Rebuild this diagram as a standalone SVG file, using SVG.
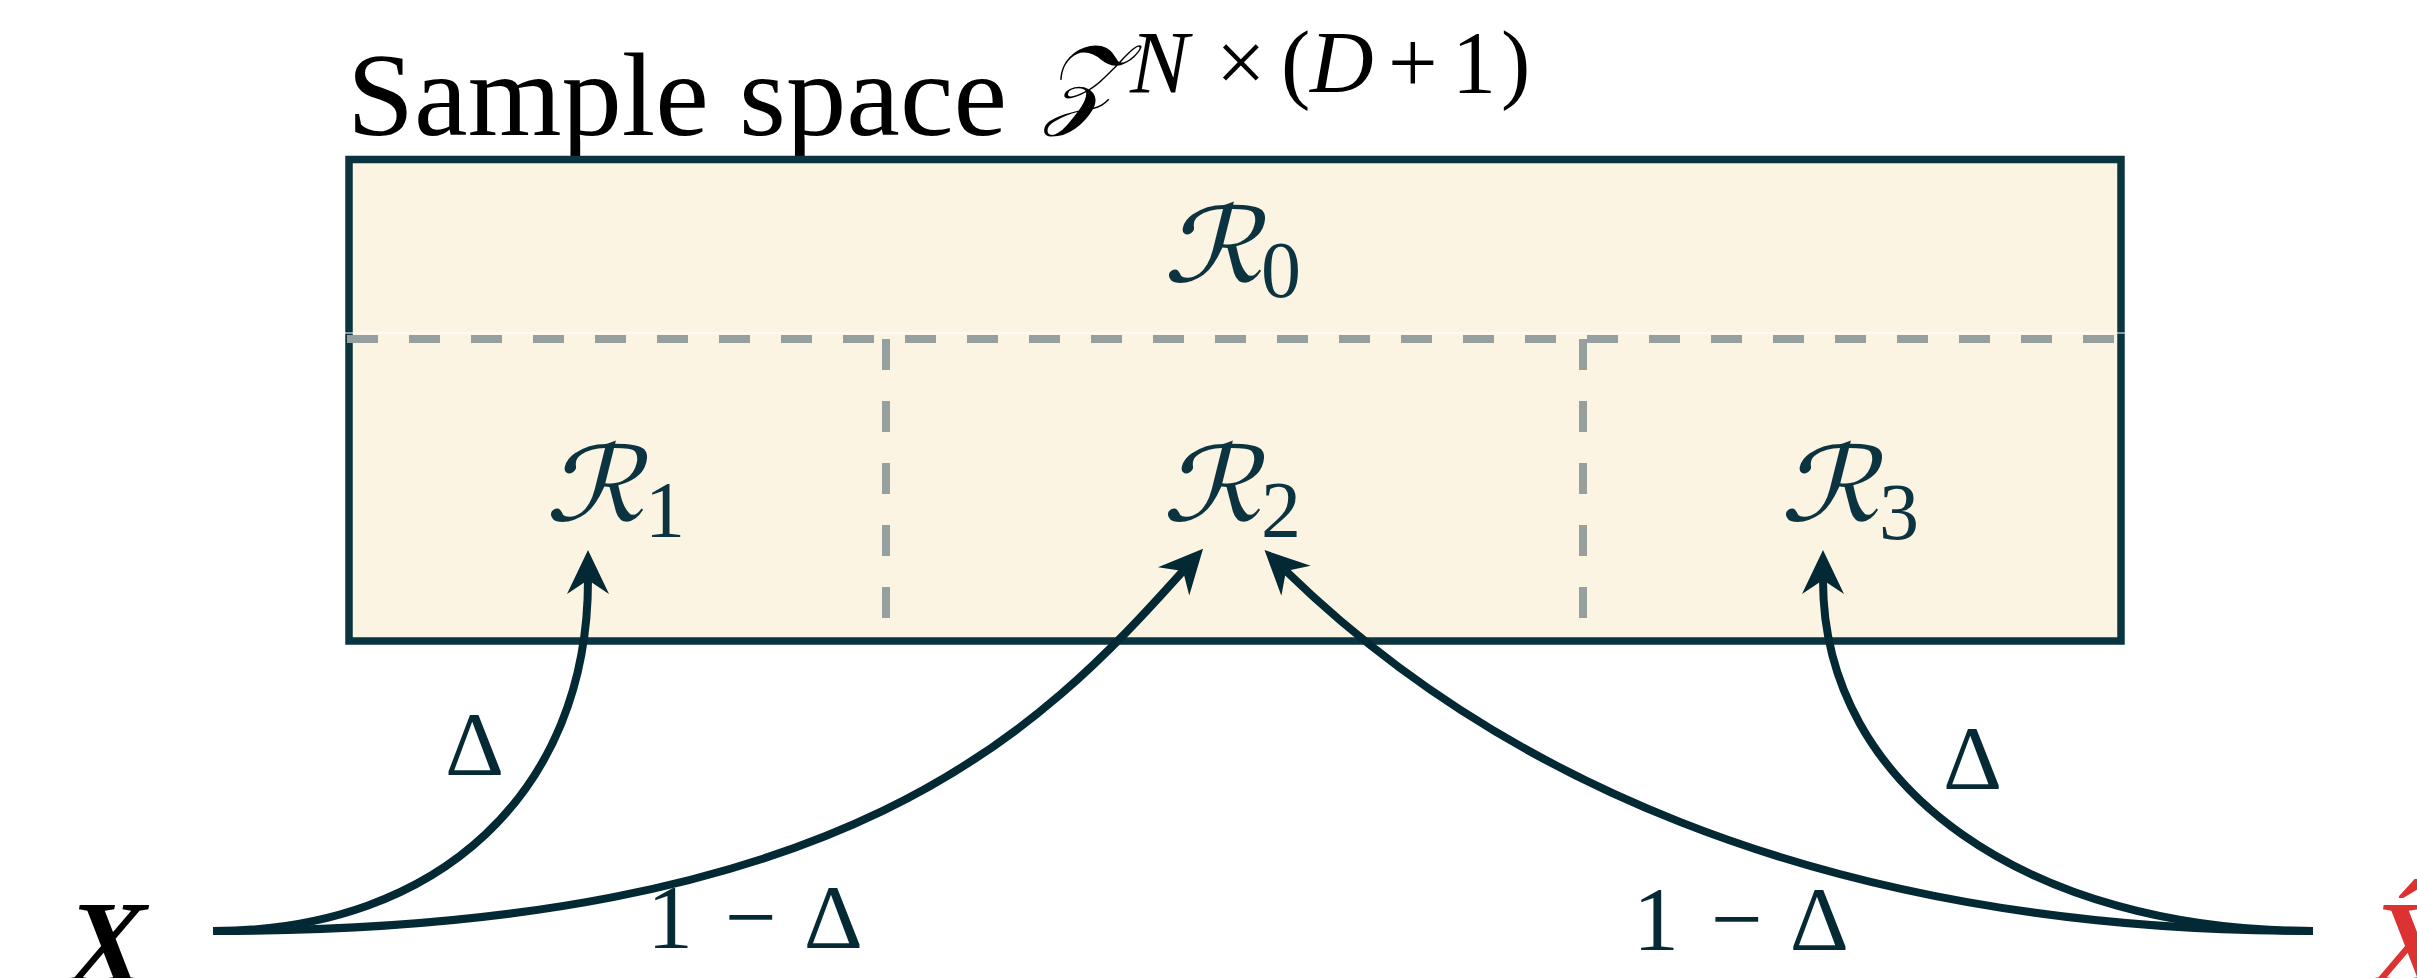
<svg xmlns="http://www.w3.org/2000/svg" width="2417" height="978" viewBox="0 0 2417 978">
  <style>
    .title { font-family: "Liberation Serif", "DejaVu Serif", serif; fill: #000; }
    .math { font-family: "Liberation Serif", "DejaVu Serif", serif; font-style: italic; }
    .cal { font-family: "DejaVu Serif", "DejaVu Sans", serif; fill: #0B3440; font-size: 104px; }
    .sub { font-family: "Liberation Serif", serif; fill: #0B3440; font-size: 80px; }
    .lbl { font-family: "Liberation Serif", serif; fill: #062A35; font-size: 92px; }
    .edge { fill: none; stroke: #032934; stroke-width: 8; }
    .dash { stroke: #96A19F; stroke-width: 8; stroke-dasharray: 31 31; fill: none; }
  </style>
  <defs>
    <marker id="head" markerUnits="userSpaceOnUse" viewBox="-50 -25 55 50" markerWidth="55" markerHeight="50" refX="-30" refY="0" orient="auto" overflow="visible">
      <path d="M0,0 L-44,-21 L-30,0 L-44,21 Z" fill="#032934"/>
    </marker>
  </defs>

  <g id="title">
    <text class="title" x="347" y="135" font-size="118" textLength="660" lengthAdjust="spacingAndGlyphs">Sample space</text>
    <text class="math" x="1044" y="115" font-size="100" fill="#000">𝒵</text>
    <text class="title" y="92" font-size="88"><tspan class="math" x="1130">N</tspan><tspan x="1216">×</tspan><tspan x="1281">(</tspan><tspan class="math" x="1310">D</tspan><tspan x="1388">+</tspan><tspan x="1452">1</tspan><tspan x="1501">)</tspan></text>
  </g>

  <g id="sample-space">
    <rect x="349" y="159.5" width="1772" height="481.5" fill="#FCF4E2" stroke="#0A3540" stroke-width="7.5"/>
    <line x1="345" y1="333" x2="2125" y2="333" stroke="#FFFFFF" stroke-width="1.2"/>
    <line class="dash" x1="347" y1="339" x2="2117" y2="339"/>
    <line class="dash" x1="886" y1="339" x2="886" y2="620"/>
    <line class="dash" x1="1583" y1="339" x2="1583" y2="620"/>
  </g>

  <g id="R0"><text class="cal" transform="translate(1163,282) skewX(-14) scale(1.2,1)">ℛ</text><text class="sub" x="1261" y="297">0</text></g>
  <g id="R1"><text class="cal" transform="translate(545,521) skewX(-14) scale(1.2,1)">ℛ</text><text class="sub" x="645" y="537">1</text></g>
  <g id="R2"><text class="cal" transform="translate(1162,521) skewX(-14) scale(1.2,1)">ℛ</text><text class="sub" x="1261" y="537">2</text></g>
  <g id="R3"><text class="cal" transform="translate(1780,521) skewX(-14) scale(1.2,1)">ℛ</text><text class="sub" x="1879" y="539">3</text></g>

  <g id="X"><text x="68" y="983" font-family="Liberation Serif, serif" font-style="italic" font-weight="bold" font-size="118" fill="#000">X</text></g>
  <g id="Xhat"><text x="2372" y="983" font-family="Liberation Serif, serif" font-style="italic" font-weight="bold" font-size="118" fill="#DC3232">X̂</text></g>

  <g id="connectors">
    <path class="edge" marker-end="url(#head)" d="M213,931 C440,931 588,790 588,580"/>
    <path class="edge" marker-end="url(#head)" d="M213,931 C850,931 1040,730 1183,571"/>
    <path class="edge" marker-end="url(#head)" d="M2313,931 C1800,931 1480,760 1286,571"/>
    <path class="edge" marker-end="url(#head)" d="M2313,931 C2030,931 1823,790 1823,580"/>
    <text class="lbl" x="445" y="775">Δ</text>
    <text class="lbl" x="647" y="948" textLength="216" lengthAdjust="spacing">1 − Δ</text>
    <text class="lbl" x="1943" y="789">Δ</text>
    <text class="lbl" x="1633" y="950" textLength="216" lengthAdjust="spacing">1 − Δ</text>
  </g>
</svg>
